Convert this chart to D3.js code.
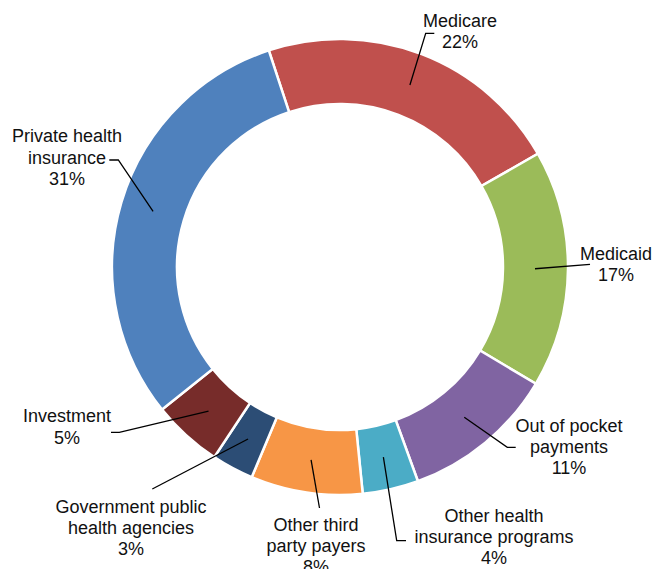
<!DOCTYPE html>
<html>
<head>
<meta charset="utf-8">
<script src="https://cdn.jsdelivr.net/npm/d3@7"></script>
<style>
  html, body { margin: 0; padding: 0; background: #fff; }
  svg { display: block; }
  text { font-family: "Liberation Sans", Arial, sans-serif; }
</style>
</head>
<body>
<svg id="chart" width="656" height="569"></svg>
<script>
// ---- data ----
const categories = ["Medicare", "Medicaid", "Out of pocket payments", "Other health insurance programs",
  "Other third party payers", "Government public health agencies", "Investment", "Private health insurance"];
const values = [22, 17, 11, 4, 8, 3, 5, 31];
const labelLines = [["Medicare"], ["Medicaid"], ["Out of pocket", "payments"], ["Other health", "insurance programs"],
  ["Other third", "party payers"], ["Government public", "health agencies"], ["Investment"], ["Private health", "insurance"]];
const colors = ["#C0504D", "#9BBB59", "#8064A2", "#4BACC6", "#F79646", "#2C4D75", "#772C2A", "#4F81BD"];

// ---- layout (label anchors and leader elbows) ----
const labelLayout = [
  { x: 460, y: 26.7, leader: [[425.7, 33.3], [434.3, 33.3]] },
  { x: 616, y: 260, leader: [[590, 264.3]] },
  { x: 569, y: 431.7, leader: [[507.3, 447.3], [515.7, 447.3]] },
  { x: 494, y: 522, leader: [[396.7, 540.7], [406, 540.7]] },
  { x: 316, y: 531, leader: [[319.5, 508]] },
  { x: 131, y: 512.7, leader: [[152.3, 489]] },
  { x: 67, y: 422.3, leader: [[119.3, 432.3], [111, 432.3]] },
  { x: 67, y: 142.3, leader: [[118.3, 160], [109.3, 160]] }
];

const cx = 340, cy = 267, outerR = 228, innerR = 163, lineH = 21.2;
const start = -18.2 * Math.PI / 180;

const svg = d3.select("#chart");
const g = svg.append("g").attr("transform", `translate(${cx},${cy})`);

const pie = d3.pie().sort(null).value(d => d).startAngle(start).endAngle(start + 2 * Math.PI);
const arcs = pie(values);
const arc = d3.arc().innerRadius(innerR).outerRadius(outerR);
const midArc = d3.arc().innerRadius(195).outerRadius(195);

g.selectAll("path.slice").data(arcs).enter().append("path")
  .attr("class", "slice")
  .attr("d", arc)
  .attr("fill", (d, i) => colors[i])
  .attr("stroke", "#fff")
  .attr("stroke-width", 2.5)
  .attr("stroke-linejoin", "miter");

// leader lines
const line = d3.line();
arcs.forEach((d, i) => {
  const c = midArc.centroid(d);
  const pts = [[c[0] + cx, c[1] + cy]].concat(labelLayout[i].leader);
  svg.append("path")
    .attr("d", line(pts))
    .attr("fill", "none")
    .attr("stroke", "#000")
    .attr("stroke-width", 1.3);
});

// labels
labelLines.forEach((lines, i) => {
  const L = labelLayout[i];
  const all = lines.concat([values[i] + "%"]);
  const t = svg.append("text")
    .attr("x", L.x).attr("y", L.y)
    .attr("text-anchor", "middle")
    .attr("font-size", 18)
    .attr("fill", "#111");
  all.forEach((s, k) => {
    t.append("tspan").attr("x", L.x).attr("y", L.y + k * lineH).text(s);
  });
});
</script>
</body>
</html>
